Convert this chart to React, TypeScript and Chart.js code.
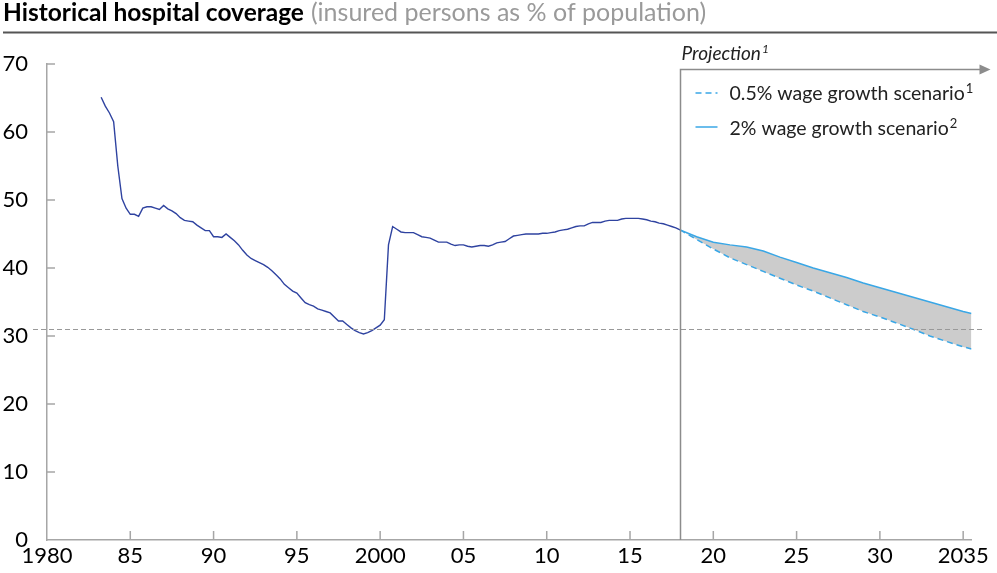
import React, { useEffect, useRef } from "react";
import { Chart, registerables } from "chart.js";

Chart.register(...registerables);

// ---- Data ----
const TITLE_BOLD = "Historical hospital coverage";
const TITLE_LIGHT = "(insured persons as % of population)";
const PROJECTION_LABEL = "Projection";
const LEGEND_LOW = "0.5% wage growth scenario";
const LEGEND_HIGH = "2% wage growth scenario";
const NOTE_LOW = "1";
const NOTE_HIGH = "2";
const NOTE_PROJECTION = "1";

const X_MIN = 1980;
const X_MAX = 2035.5;
const X_TICKS = [1980, 1985, 1990, 1995, 2000, 2005, 2010, 2015, 2020, 2025, 2030, 2035];
const Y_TICKS = [0, 10, 20, 30, 40, 50, 60, 70];
const REF_LINE = 31;
const PROJECTION_START = 2018;

// quarterly history, first value at 1983 Q2
const HIST_START = 1983.25;
const HIST_STEP = 0.25;
const histValues = [
  65.1, 63.8, 62.8, 61.5, 55.0, 50.2, 48.8, 47.9, 47.9, 47.6, 48.8, 49.0,
  49.0, 48.8, 48.6, 49.2, 48.7, 48.4, 48.0, 47.4, 47.0, 46.9, 46.8, 46.3,
  45.9, 45.5, 45.5, 44.6, 44.6, 44.5, 45.0, 44.5, 44.0, 43.4, 42.6, 41.9,
  41.4, 41.1, 40.8, 40.5, 40.1, 39.6, 39.0, 38.4, 37.6, 37.1, 36.6, 36.3,
  35.6, 34.9, 34.6, 34.4, 34.0, 33.8, 33.6, 33.4, 32.8, 32.2, 32.2, 31.7,
  31.2, 30.8, 30.5, 30.3, 30.5, 30.8, 31.2, 31.6, 32.4, 43.4, 46.1, 45.7,
  45.3, 45.2, 45.2, 45.2, 44.9, 44.6, 44.5, 44.4, 44.1, 43.8, 43.8, 43.8,
  43.5, 43.3, 43.4, 43.4, 43.2, 43.1, 43.2, 43.3, 43.3, 43.2, 43.4, 43.7,
  43.8, 43.9, 44.3, 44.7, 44.8, 44.9, 45.0, 45.0, 45.0, 45.0, 45.1, 45.1,
  45.2, 45.3, 45.5, 45.6, 45.7, 45.9, 46.1, 46.2, 46.2, 46.5, 46.7, 46.7,
  46.7, 46.9, 47.0, 47.0, 47.0, 47.2, 47.3, 47.3, 47.3, 47.3, 47.2, 47.1,
  46.9, 46.8, 46.6, 46.5, 46.3, 46.1, 45.9, 45.6,
];

const projYears = [
  2018, 2019, 2020, 2021, 2022, 2023, 2024, 2025, 2026, 2027, 2028, 2029,
  2030, 2031, 2032, 2033, 2034, 2035, 2035.5,
];
const lowScenario = [
  45.6, 44.2, 42.8, 41.5, 40.5, 39.5, 38.5, 37.5, 36.6, 35.6, 34.6, 33.6,
  32.8, 31.9, 31.0, 30.0, 29.2, 28.4, 28.1,
];
const highScenario = [
  45.6, 44.6, 43.8, 43.4, 43.1, 42.5, 41.6, 40.8, 40.0, 39.3, 38.6, 37.8,
  37.1, 36.4, 35.7, 35.0, 34.3, 33.6, 33.3,
];

const FONT = "Lato, 'Open Sans', sans-serif";
const NAVY = "#2f43a0";
const LIGHT_BLUE = "#3aa7e6";
const AXIS_GREY = "#a6a6a6";

function textWithNote(ctx: any, text: string, note: string, x: number, y: number, font: string, noteFont: string, raise: number) {
  ctx.font = font;
  ctx.fillText(text, x, y);
  const w = ctx.measureText(text).width;
  ctx.font = noteFont;
  ctx.fillText(note, x + w + 1, y - raise);
}

const overlayPlugin = {
  id: "overlay",
  afterDraw(chart: any) {
    const { ctx, chartArea, scales } = chart;
    const xs = scales.x;
    const ys = scales.y;
    ctx.save();

    // title
    ctx.textBaseline = "alphabetic";
    ctx.textAlign = "left";
    ctx.fillStyle = "#000";
    ctx.font = `bold 24.5px ${FONT}`;
    ctx.fillText(TITLE_BOLD, 3, 21);
    const w = ctx.measureText(TITLE_BOLD).width;
    ctx.fillStyle = "#9a9a9a";
    ctx.font = `25px ${FONT}`;
    ctx.fillText(TITLE_LIGHT, 3 + w + 7, 21);
    ctx.strokeStyle = "#555";
    ctx.lineWidth = 2;
    ctx.beginPath();
    ctx.moveTo(3, 32.5);
    ctx.lineTo(997, 32.5);
    ctx.stroke();

    // inward tick marks
    ctx.strokeStyle = AXIS_GREY;
    ctx.lineWidth = 1.5;
    ctx.beginPath();
    X_TICKS.forEach((v) => {
      if (v === X_MIN) return;
      const px = xs.getPixelForValue(v);
      ctx.moveTo(px, chartArea.bottom);
      ctx.lineTo(px, chartArea.bottom - 9);
    });
    Y_TICKS.forEach((v) => {
      if (v === 0) return;
      const py = ys.getPixelForValue(v);
      ctx.moveTo(chartArea.left, py);
      ctx.lineTo(chartArea.left + 8, py);
    });
    ctx.stroke();

    // reference dashed line
    const ry = Math.round(ys.getPixelForValue(REF_LINE)) + 0.5;
    ctx.strokeStyle = "#999";
    ctx.lineWidth = 1.2;
    ctx.setLineDash([5, 3]);
    ctx.beginPath();
    ctx.moveTo(chartArea.left - 14, ry);
    ctx.lineTo(chartArea.right + 12, ry);
    ctx.stroke();
    ctx.setLineDash([]);

    // projection marker + arrow
    const px = Math.round(xs.getPixelForValue(PROJECTION_START)) + 0.5;
    const ay = chartArea.top + 5.5;
    ctx.strokeStyle = "#8c8c8c";
    ctx.lineWidth = 1.5;
    ctx.beginPath();
    ctx.moveTo(px, chartArea.bottom);
    ctx.lineTo(px, ay);
    ctx.lineTo(chartArea.right + 10, ay);
    ctx.stroke();
    ctx.fillStyle = "#8c8c8c";
    ctx.beginPath();
    ctx.moveTo(chartArea.right + 8, ay - 5);
    ctx.lineTo(chartArea.right + 19, ay);
    ctx.lineTo(chartArea.right + 8, ay + 5);
    ctx.closePath();
    ctx.fill();

    ctx.fillStyle = "#222";
    textWithNote(ctx, PROJECTION_LABEL, NOTE_PROJECTION, px + 1, 60, `italic 19px ${FONT}`, `italic 12px ${FONT}`, 7);

    // legend
    ctx.strokeStyle = LIGHT_BLUE;
    ctx.lineWidth = 1.5;
    ctx.setLineDash([6, 4]);
    ctx.beginPath();
    ctx.moveTo(px + 15, 93);
    ctx.lineTo(px + 37, 93);
    ctx.stroke();
    ctx.setLineDash([]);
    ctx.beginPath();
    ctx.moveTo(px + 15, 127);
    ctx.lineTo(px + 37, 127);
    ctx.stroke();
    ctx.fillStyle = "#222";
    textWithNote(ctx, LEGEND_LOW, NOTE_LOW, px + 49, 100, `19.5px ${FONT}`, `13px ${FONT}`, 7);
    textWithNote(ctx, LEGEND_HIGH, NOTE_HIGH, px + 49, 135, `19.5px ${FONT}`, `13px ${FONT}`, 7);

    ctx.restore();
  },
};

export default function App() {
  const ref = useRef<HTMLCanvasElement | null>(null);
  useEffect(() => {
    if (!ref.current) return;
    const hist = histValues.map((v, i) => ({ x: HIST_START + i * HIST_STEP, y: v }));
    const low = projYears.map((x, i) => ({ x, y: lowScenario[i] }));
    const high = projYears.map((x, i) => ({ x, y: highScenario[i] }));
    const chart = new Chart(ref.current, {
      type: "line",
      data: {
        datasets: [
          {
            label: "History",
            data: hist,
            borderColor: NAVY,
            borderWidth: 1.4,
            pointRadius: 0,
            tension: 0,
            fill: false,
          },
          {
            label: LEGEND_LOW,
            data: low,
            borderColor: LIGHT_BLUE,
            borderWidth: 1.5,
            borderDash: [6, 4],
            pointRadius: 0,
            fill: false,
          },
          {
            label: LEGEND_HIGH,
            data: high,
            borderColor: LIGHT_BLUE,
            borderWidth: 1.5,
            pointRadius: 0,
            fill: { target: 1 },
            backgroundColor: "#cccccc",
          },
        ],
      },
      options: {
        responsive: false,
        animation: false,
        layout: { padding: { top: 64, right: 25.5, left: 0, bottom: 0 } },
        plugins: {
          legend: { display: false },
          title: { display: false },
          tooltip: { enabled: false },
          filler: { propagate: false },
        },
        scales: {
          x: {
            type: "linear",
            min: X_MIN,
            max: X_MAX,
            grid: { display: false, drawTicks: false },
            border: { display: true, color: AXIS_GREY, width: 1.5 },
            afterBuildTicks: (s: any) => {
              s.ticks = X_TICKS.map((v) => ({ value: v }));
            },
            afterFit: (s: any) => {
              s.height = 33;
            },
            ticks: {
              autoSkip: false,
              maxRotation: 0,
              padding: 3,
              color: "#000",
              font: { family: FONT, size: 22 },
              callback: (v: any) => {
                const n = Number(v);
                if (n === 1980 || n === 2000 || n === 2035) return String(n);
                return String(n % 100).padStart(2, "0");
              },
            },
          },
          y: {
            min: 0,
            max: 70,
            grid: { display: false, drawTicks: false },
            border: { display: true, color: AXIS_GREY, width: 1.5 },
            afterBuildTicks: (s: any) => {
              s.ticks = Y_TICKS.map((v) => ({ value: v }));
            },
            afterFit: (s: any) => {
              s.width = 47;
            },
            ticks: {
              padding: 19,
              color: "#000",
              font: { family: FONT, size: 22 },
            },
          },
        },
      },
      plugins: [overlayPlugin],
    });
    return () => chart.destroy();
  }, []);
  return (
    <div style={{ position: "absolute", left: 0, top: 0, width: 997, height: 573, background: "#fff" }}>
      <canvas ref={ref} width={997} height={573} />
    </div>
  );
}
